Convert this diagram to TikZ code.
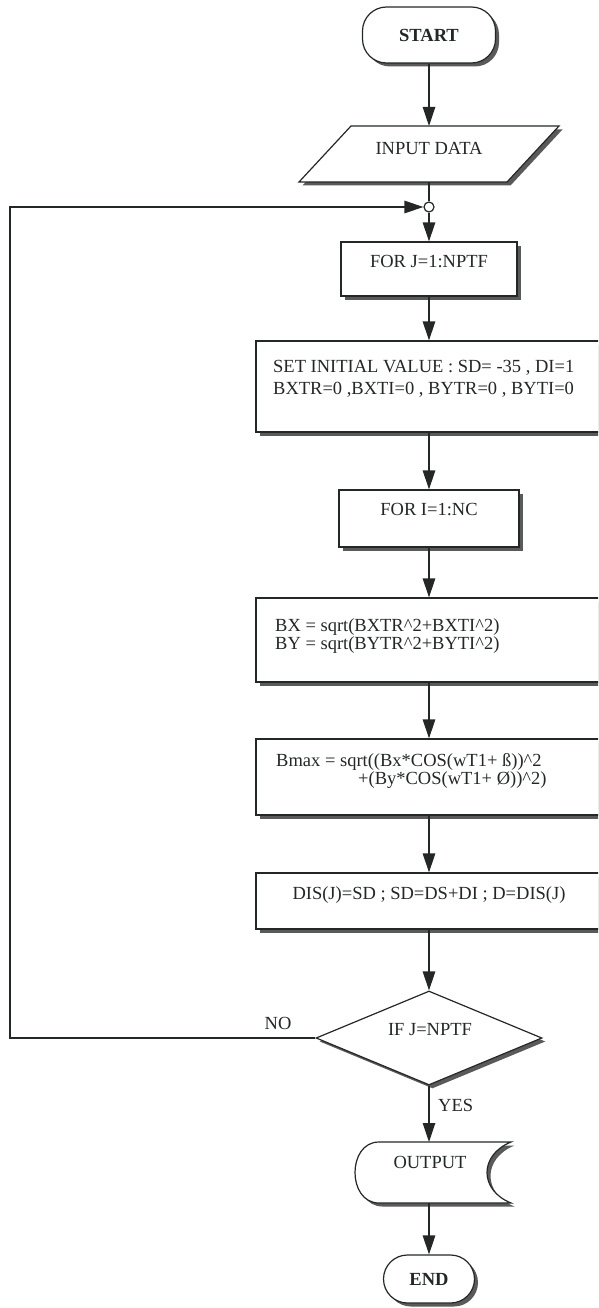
\documentclass[tikz,border=0pt]{standalone}
\usepackage{fontspec}
\setmainfont{Liberation Serif}
\usetikzlibrary{arrows.meta,shapes.geometric,shadows}
\definecolor{ink}{RGB}{35,40,38}
\definecolor{shade}{RGB}{90,90,90}

\begin{document}
\begin{tikzpicture}[x=1pt,y=-1pt,
  every node/.style={font=\fontsize{18.5}{19}\selectfont, text=ink},
  shadowed/.style={drop shadow={shadow xshift=3.5pt,shadow yshift=-3.5pt,fill=shade,opacity=1}},
  box/.style={rectangle, draw=ink, line width=1.2pt, fill=white, shadowed, inner sep=0pt},
  term/.style={box, rounded corners=24pt, font=\fontsize{18.5}{19}\selectfont\bfseries},
  figure/.style={draw=ink, line width=1.2pt, fill=white, shadowed},
  link/.style={draw=ink, line width=1.2pt},
  flow/.style={link, -{Triangle[length=19pt,width=12.5pt]}},
  lbl/.style={inner sep=0pt},
]
% canvas
\useasboundingbox (0,0) rectangle (598,1308);
\fill[white] (0,0) rectangle (598,1308);
\clip (0,0) rectangle (598,1308);

% terminal: start
\node[term, minimum width=133pt, minimum height=56pt] (start) at (429,35) {START};

% input parallelogram
\path[figure] (351,126) -- (559,126) -- (507,182) -- (299,182) -- cycle;
\node[lbl] (inputtxt) at (429,148) {INPUT DATA};
\coordinate (intop) at (429,126);
\coordinate (inbot) at (429,182);

% loop junction
\node[circle, draw=ink, fill=white, line width=1.2pt, minimum size=10pt, inner sep=0pt] (junction) at (429,207) {};

% outer loop header
\node[box, minimum width=176pt, minimum height=54pt] (forj) at (429,269) {};
\node[lbl] (forjtxt) at (429,262) {FOR J=1:NPTF};

% initial values
\node[box, minimum width=346pt, minimum height=91pt] (init) at (429,386.5) {};
\node[lbl, anchor=west] (init1) at (273,368) {SET INITIAL VALUE : SD= -35 , DI=1};
\node[lbl, anchor=west] (init2) at (273,390) {BXTR=0 ,BXTI=0 , BYTR=0 , BYTI=0};

% inner loop header
\node[box, minimum width=180pt, minimum height=57pt] (fori) at (429,518.5) {};
\node[lbl] (foritxt) at (429,510) {FOR I=1:NC};

% field magnitudes
\node[box, minimum width=346pt, minimum height=84pt] (bxy) at (429,640) {};
\node[lbl, anchor=west] (bx1) at (275,627) {BX = sqrt(BXTR\^{}2+BXTI\^{}2)};
\node[lbl, anchor=west] (bx2) at (275,645) {BY = sqrt(BYTR\^{}2+BYTI\^{}2)};

% maximum flux density
\node[box, minimum width=346pt, minimum height=76pt] (bmax) at (429,777) {};
\node[lbl, anchor=west] (bm1) at (276,762) {Bmax = sqrt((Bx*COS(wT1+ ß))\^{}2};
\node[lbl, anchor=west] (bm2) at (358,780) {+(By*COS(wT1+ Ø))\^{}2)};

% displacement update
\node[box, minimum width=346pt, minimum height=56pt] (dis) at (429,901) {};
\node[lbl] (distxt) at (429,895) {DIS(J)=SD ; SD=DS+DI ; D=DIS(J)};

% decision
\node[diamond, draw=ink, line width=1.2pt, fill=white, shadowed, minimum width=226pt, minimum height=94pt, inner sep=0pt] (test) at (429,1038) {};
\node[lbl] (testtxt) at (430,1030) {IF J=NPTF};
\node[lbl] (no) at (278,1023) {NO};
\node[lbl, anchor=west] (yes) at (438,1105) {YES};

% output (stored data)
\path[figure] (379,1142) -- (511,1142) .. controls (479,1155) and (479,1190) .. (511,1203)
  -- (379,1203) .. controls (347,1203) and (347,1142) .. (379,1142) -- cycle;
\node[lbl] (outtxt) at (430,1162) {OUTPUT};
\coordinate (outtop) at (429,1142);
\coordinate (outbot) at (429,1203);

% terminal: end
\node[term, minimum width=91pt, minimum height=48pt] (end) at (429,1279) {END};

% connectors
\draw[flow] (start) -- (intop);
\draw[link] (inbot) -- (junction);
\draw[flow] (junction) -- (forj);
\draw[flow] (forj) -- (init);
\draw[flow] (init) -- (fori);
\draw[flow] (fori) -- (bxy);
\draw[flow] (bxy) -- (bmax);
\draw[flow] (bmax) -- (dis);
\draw[flow] (dis) -- (test);
\draw[flow] (test) -- (outtop);
\draw[flow] (outbot) -- (end);
\coordinate (loopbl) at (10,1038);
\coordinate (looptl) at (10,207);
\draw[flow] (test.west) -- (loopbl) -- (looptl) -- (junction.west);
\end{tikzpicture}
\end{document}
